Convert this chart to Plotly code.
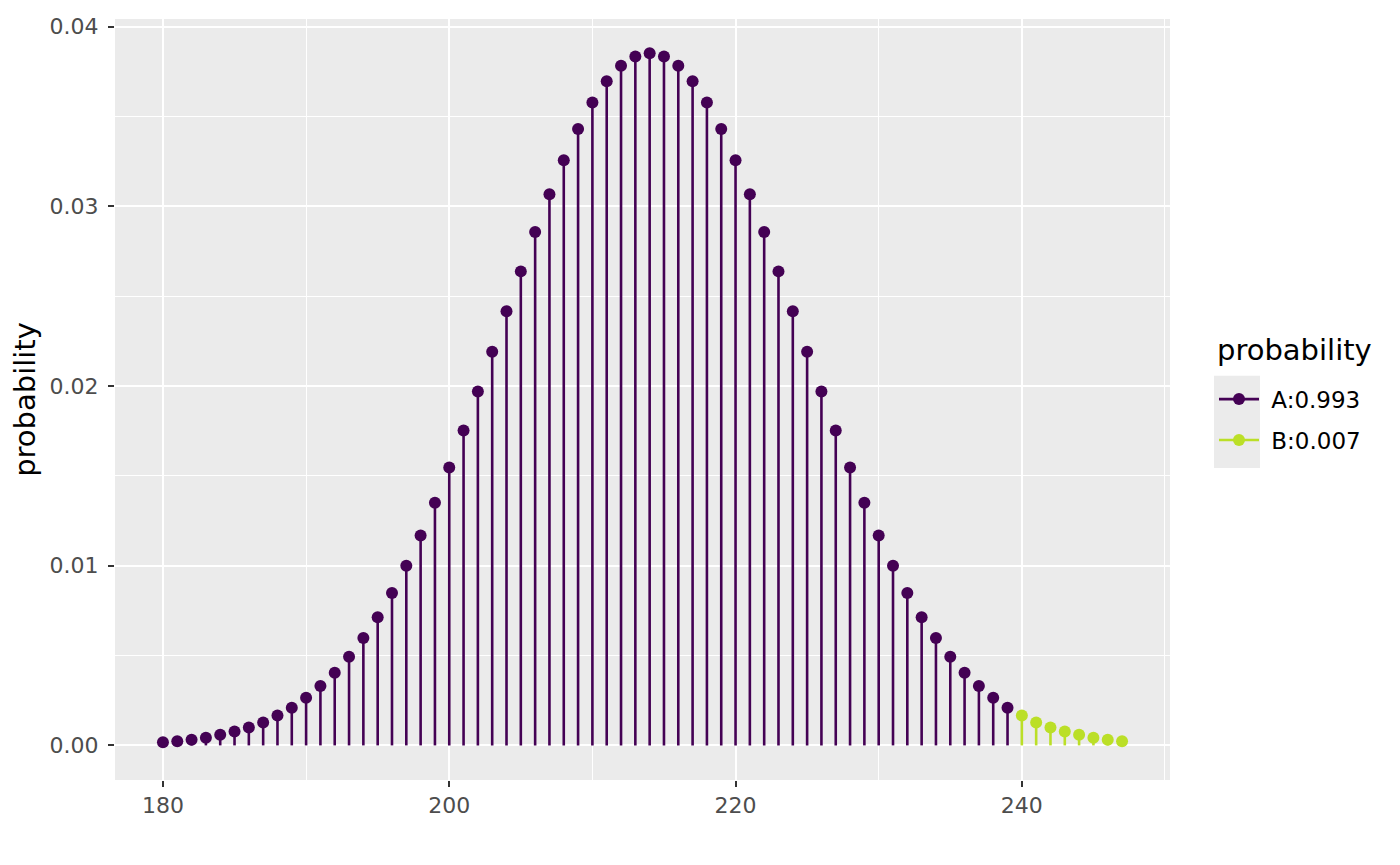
import plotly.graph_objects as go

# outcomes and their probabilities
x_a = list(range(180, 240))
p_a = [0.00017, 0.00023, 0.00031, 0.00043, 0.00059, 0.00078, 0.00100, 0.00127, 0.00166, 0.00210,
       0.00265, 0.00330, 0.00404, 0.00493, 0.00598, 0.00713, 0.00848, 0.01000, 0.01168, 0.01351,
       0.01547, 0.01753, 0.01970, 0.02191, 0.02416, 0.02638, 0.02857, 0.03067, 0.03257, 0.03430,
       0.03578, 0.03696, 0.03782, 0.03834, 0.03852, 0.03834, 0.03782, 0.03696, 0.03578, 0.03430,
       0.03257, 0.03067, 0.02857, 0.02638, 0.02416, 0.02191, 0.01970, 0.01753, 0.01547, 0.01351,
       0.01168, 0.01000, 0.00848, 0.00713, 0.00598, 0.00493, 0.00404, 0.00330, 0.00265, 0.00210]
x_b = list(range(240, 248))
p_b = [0.00166, 0.00127, 0.00100, 0.00078, 0.00059, 0.00043, 0.00031, 0.00023]

groups = [("A:0.993", x_a, p_a, "#440154"), ("B:0.007", x_b, p_b, "#BBDF27")]

fig = go.Figure()
for name, xs, ps, col in groups:
    sx, sy = [], []
    for x, p in zip(xs, ps):
        sx += [x, x, None]
        sy += [0, p, None]
    # stems
    fig.add_trace(go.Scatter(x=sx, y=sy, mode="lines", line=dict(color=col, width=2.6),
                             showlegend=False, hoverinfo="skip", legendgroup=name))
    # points
    fig.add_trace(go.Scatter(x=xs, y=ps, mode="markers", marker=dict(color=col, size=12),
                             showlegend=False, name=name, legendgroup=name))
    # legend key
    fig.add_trace(go.Scatter(x=[None], y=[None], mode="lines+markers", name="\u00a0" + name,
                             legendgroup=name, line=dict(color=col, width=2.6),
                             marker=dict(color=col, size=12)))

def axis_style(minor_vals):
    return dict(showgrid=True, gridcolor="white", gridwidth=2, zeroline=False,
                ticks="outside", ticklen=6, tickcolor="#333333", tickwidth=2,
                tickfont=dict(size=22, color="#4D4D4D"),
                minor=dict(showgrid=True, gridcolor="white", gridwidth=1, tickvals=minor_vals))

fig.update_layout(
    width=1400, height=865,
    paper_bgcolor="white", plot_bgcolor="#EBEBEB",
    font=dict(family="DejaVu Sans", color="black"),
    margin=dict(l=107, r=238, t=6, b=93),
    xaxis=dict(range=[176.65, 250.35], tickvals=[180, 200, 220, 240],
               **axis_style([190, 210, 230, 250])),
    yaxis=dict(range=[-0.001925, 0.040425], tickvals=[0, 0.01, 0.02, 0.03, 0.04],
               ticktext=["0.00", "0.01", "0.02", "0.03", "0.04"], ticklabelstandoff=5,
               title=dict(text="probability", font=dict(size=29), standoff=10),
               **axis_style([0.005, 0.015, 0.025, 0.035])),
    legend=dict(x=1.0417, y=0.5287, xanchor="left", yanchor="top",
                font=dict(size=23), bgcolor="rgba(0,0,0,0)", itemwidth=40,
                traceorder="grouped", tracegroupgap=8),
    annotations=[dict(text="probability", xref="paper", yref="paper", x=1.0427, y=0.5653,
                      xanchor="left", yanchor="middle", showarrow=False, font=dict(size=29))],
    shapes=[dict(type="rect", xref="paper", yref="paper", x0=1.0417, x1=1.0853, y0=0.41, y1=0.5313,
                 fillcolor="#EBEBEB", line=dict(width=0), layer="below")],
)

fig.write_html("out.html")
